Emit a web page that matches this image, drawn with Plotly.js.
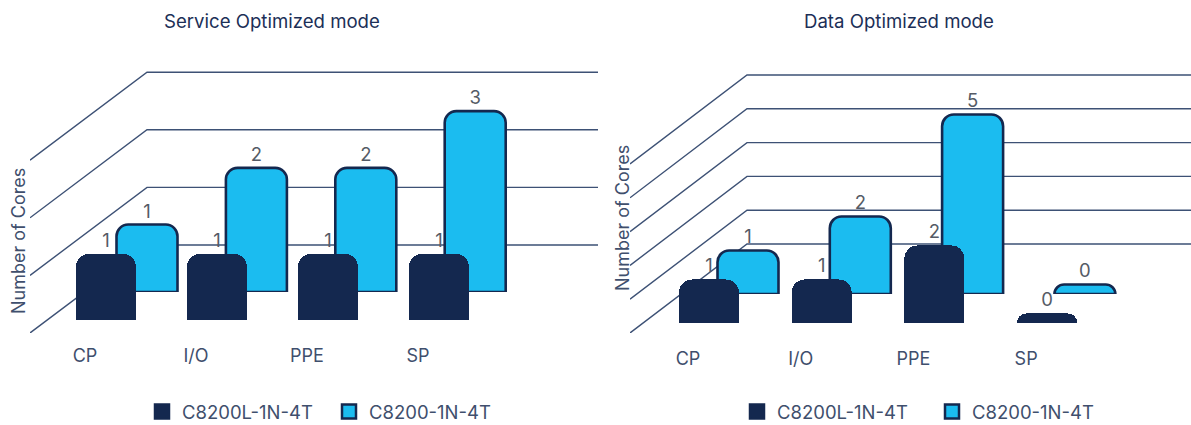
<!DOCTYPE html>
<html><head><meta charset="utf-8">
<script src="https://cdn.plot.ly/plotly-3.0.1.min.js"></script>
<style>html,body{margin:0;padding:0;background:#fff;overflow:hidden}</style></head>
<body><div style="width:1191px;height:425px;overflow:hidden"><div id="chart" style="width:1191px;height:445px"></div></div>
<script>
const categories = ['CP', 'I/O', 'PPE', 'SP'];
const seriesNames = ['C8200L-1N-4T', 'C8200-1N-4T'];
const serviceL = [1, 1, 1, 1];
const serviceN = [1, 2, 2, 3];
const dataL = [1, 1, 2, 0];
const dataN = [1, 2, 5, 0];
const serviceGrid = [0, 1, 2, 3];
const dataGrid = [0, 1, 2, 3, 4, 5];
const titles = ['Service Optimized mode', 'Data Optimized mode'];
const yTitle = 'Number of Cores';

// The figure is a little taller than the window so the legend has room below it without squeezing the plot.
const W = 1191, H = 445;
const NAVY = '#14284f', CYAN = '#1bbcf0', LINE = '#3d5175', TXT = '#3f4f6d', NUM = '#555b66';
const px = v => v / W, py = v => 1 - v / H;
const traces = [];
const layout = {
  width: W, height: H, autosize: false, margin: {l: 0, r: 0, t: 0, b: 0},
  paper_bgcolor: '#fff', plot_bgcolor: 'rgba(0,0,0,0)',
  font: {family: 'Inter, Roboto, sans-serif', color: TXT},
  showlegend: true, annotations: [], bargap: 0
};
const hidden = {showgrid: false, zeroline: false, showline: false, showticklabels: false, ticks: '', fixedrange: true};

function axisKey(letter, n) { return letter + 'axis' + (n === 1 ? '' : n); }
function axisId(letter, n) { return letter + (n === 1 ? '' : n); }

function setAxes(n, xDom, yDom, xRange, yRange, xExtra) {
  layout[axisKey('x', n)] = Object.assign({}, hidden, {
    domain: [px(xDom[0]), px(xDom[1])], range: xRange, anchor: axisId('y', n)}, xExtra || {});
  layout[axisKey('y', n)] = Object.assign({}, hidden, {
    domain: [py(yDom[0]), py(yDom[1])], range: yRange, anchor: axisId('x', n)});
}

function panel(o) {
  const n = o.first;
  const yTop = 40;
  const shift = o.grid.drop / o.grid.step;
  setAxes(n, [o.grid.left, o.grid.right], [o.grid.front, yTop],
    [0, o.grid.right - o.grid.left],
    [-shift, (o.grid.back - yTop) / o.grid.step]);
  o.values.forEach(v => traces.push({
    type: 'scatter', mode: 'lines', xaxis: axisId('x', n), yaxis: axisId('y', n),
    x: [0, o.grid.corner - o.grid.left, o.grid.right - o.grid.left],
    y: [v - shift, v, v], showlegend: false, hoverinfo: 'skip',
    line: {color: LINE, width: 1.4}
  }));

  const bars = (idx, vals, name, b, fill, lineW, radius) => {
    const a = n + idx;
    const step = b.step;
    setAxes(a, [b.c0 - step / 2, b.c0 + step * 3.5], [b.bottom, yTop],
      [-0.5, 3.5], [0, (b.bottom - yTop) / b.scale],
      {type: 'category', categoryorder: 'array', categoryarray: categories, tickmode: 'array',
       tickvals: categories, ticktext: categories,
       showticklabels: idx === 2, ticklabelshift: idx === 2 ? -21 : 0, ticklabelstandoff: 23,
       tickfont: {size: 18, color: TXT}});
    return {
      type: 'bar', name: name, xaxis: axisId('x', a), yaxis: axisId('y', a),
      x: categories, y: vals.map(v => v + o.floor), text: vals.map(String),
      textposition: 'outside', cliponaxis: false, constraintext: 'none',
      textfont: {size: 18.5, color: NUM}, width: b.width / step,
      marker: {color: fill, cornerradius: radius, line: {color: NAVY, width: lineW}},
      showlegend: false, hoverinfo: 'skip'
    };
  };
  const back = bars(1, o.nVals, seriesNames[1], o.back, CYAN, 2.6, 12);
  const front = bars(2, o.lVals, seriesNames[0], o.front, NAVY, 0, 13);
  traces.push(back, front);

  // legend keys: larger swatches than a bar trace's legend symbol allows
  [[seriesNames[0], NAVY], [seriesNames[1], CYAN]].forEach(([name, fill]) => traces.push({
    type: 'scatter', mode: 'markers', name: name, x: [null], y: [null],
    xaxis: axisId('x', n), yaxis: axisId('y', n), legend: o.legend, hoverinfo: 'skip',
    marker: {symbol: 'square', size: 14, color: fill, line: {color: NAVY, width: 2.5}}
  }));

  layout.annotations.push(
    {xref: 'paper', yref: 'paper', x: px(o.titleX), y: py(21), xanchor: 'center', yanchor: 'middle',
     showarrow: false, text: o.title, font: {size: 18.6, color: '#1c2f57'}},
    {xref: 'paper', yref: 'paper', x: px(o.yTitleX), y: py(o.yTitleY), xanchor: 'center', yanchor: 'middle',
     showarrow: false, text: yTitle, textangle: -90, font: {size: 18, color: TXT}});

  layout[o.legend] = {
    orientation: 'h', x: px(o.legendX), y: py(412), xanchor: 'left', yanchor: 'middle',
    font: {size: 18.5, color: TXT}, itemclick: false, itemdoubleclick: false,
    entrywidth: o.legendEntry, entrywidthmode: 'pixels', itemwidth: 30, tracegroupgap: 0,
    bgcolor: 'rgba(0,0,0,0)'
  };
}

panel({first: 1, legend: 'legend', title: titles[0], titleX: 272, yTitleX: 18, yTitleY: 241, legendX: 142, legendEntry: 142,
  values: serviceGrid, lVals: serviceL, nVals: serviceN, floor: 0.19,
  grid: {left: 30, corner: 147, right: 598, front: 333, back: 245, step: 57.6, drop: 88},
  back: {c0: 147, step: 109.4, width: 61, bottom: 292, scale: 56.7},
  front: {c0: 106, step: 111, width: 60, bottom: 320, scale: 55.5}});

panel({first: 4, legend: 'legend2', title: titles[1], titleX: 899, yTitleX: 622, yTitleY: 218, legendX: 737, legendEntry: 150,
  values: dataGrid, lVals: dataL, nVals: dataN, floor: 0.28,
  grid: {left: 630, corner: 747, right: 1191, front: 333, back: 244, step: 33.8, drop: 89},
  back: {c0: 748, step: 112.3, width: 61, bottom: 294, scale: 34},
  front: {c0: 709, step: 112.7, width: 60, bottom: 323, scale: 34}});

Plotly.newPlot('chart', traces, layout, {displayModeBar: false, staticPlot: true});
</script></body></html>
